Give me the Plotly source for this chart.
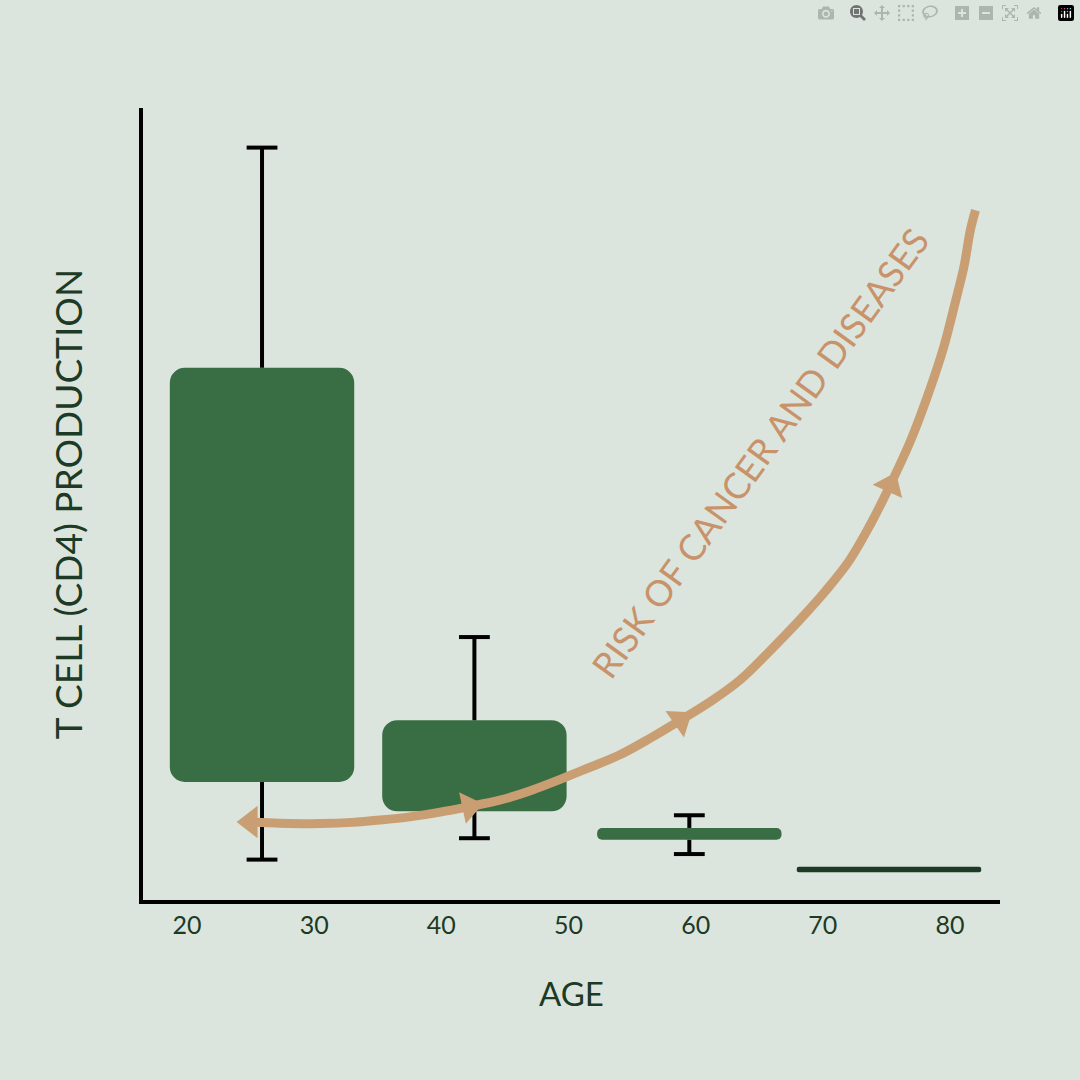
import plotly.graph_objects as go

# box data (age centre, box bottom/top, whisker low/high)
box_x = [25.9, 42.6, 59.5, 75.2]
box_low = [14.9, 11.2, 7.6, 3.5]
box_high = [67.2, 22.7, 9.1, 4.2]
whisk_x = [25.9, 42.6, 59.5]
whisk_low = [5.1, 7.8, 5.8]
whisk_high = [95.0, 33.2, 10.7]
box_colors = ["#396d43", "#396d43", "#396d43", "#1c3a24"]

# risk curve
risk_x = [24.8, 27.3, 30.5, 33.0, 35.2, 37.5, 39.9, 42.2, 44.6, 47.0, 49.3, 51.6, 54.0, 56.4,
          58.8, 61.2, 63.5, 65.8, 68.2, 70.2, 72.1, 73.8, 75.3, 76.9, 78.4, 79.5, 80.4, 81.1, 81.6, 82.0]
risk_y = [9.85, 9.7, 9.65, 9.8, 10.1, 10.5, 11.1, 11.8, 12.6, 13.8, 15.2, 16.7, 18.3, 20.4,
          22.7, 25.1, 27.8, 31.4, 35.4, 39.0, 42.9, 47.6, 52.4, 58.0, 64.4, 69.8, 75.4, 80.0, 84.6, 87.1]
arrow_x = [25.0, 42.2, 58.8, 75.3]
arrow_y = [9.85, 11.8, 22.7, 52.4]
arrow_angle = [180, -12, -35, -66]

ticks = [20, 30, 40, 50, 60, 70, 80]

orange = "#c99e72"
dark = "#1c3a24"

# whisker segments outside the boxes, with caps at the ends
wx, wy, cap_x, cap_y = [], [], [], []
for x, lo, hi, bl, bh in zip(whisk_x, whisk_low, whisk_high, box_low, box_high):
    wx += [x, x, None, x, x, None]
    wy += [bh, hi, None, bl, lo, None]
    cap_x += [x, x]
    cap_y += [hi, lo]

fig = go.Figure()

fig.add_trace(go.Bar(
    x=box_x, y=[h - l for h, l in zip(box_high, box_low)], base=box_low,
    width=14.5, marker=dict(color=box_colors, line=dict(width=0)),
    showlegend=False))

fig.add_trace(go.Scatter(x=wx, y=wy, mode="lines", line=dict(color="black", width=4),
                         hoverinfo="skip", showlegend=False))
fig.add_trace(go.Scatter(x=cap_x, y=cap_y, mode="markers",
                         marker=dict(symbol="line-ew", size=22, line=dict(color="black", width=4)),
                         hoverinfo="skip", showlegend=False))

fig.add_trace(go.Scatter(
    x=risk_x, y=risk_y, mode="lines",
    line=dict(color=orange, width=9, shape="spline", smoothing=1.0),
    showlegend=False))
fig.add_trace(go.Scatter(
    x=arrow_x, y=arrow_y, mode="markers",
    marker=dict(symbol="triangle-right", size=28, color=orange, angle=arrow_angle),
    showlegend=False))

fig.add_annotation(x=65.0, y=56.5, text="RISK OF CANCER AND DISEASES", showarrow=False,
                   textangle=-54, font=dict(family="Lato", size=36, color="#c8926a"))
fig.add_annotation(x=0.5, y=-0.09, xref="paper", yref="paper", yanchor="top",
                   text="AGE", showarrow=False,
                   font=dict(family="Lato", size=33, color=dark))

fig.update_layout(
    width=1080, height=1080,
    paper_bgcolor="#dbe5dd", plot_bgcolor="#dbe5dd",
    margin=dict(l=143, r=80, t=108, b=180),
    barcornerradius=15,
    xaxis=dict(range=[16.54, 83.93], tickvals=ticks, showgrid=False, zeroline=False,
               showline=True, linecolor="black", linewidth=4,
               tickfont=dict(family="Lato", size=25, color=dark), ticklen=0),
    yaxis=dict(range=[0, 100], showgrid=False, zeroline=False, showticklabels=False,
               showline=True, linecolor="black", linewidth=4,
               title=dict(text="T CELL (CD4) PRODUCTION", standoff=46,
                          font=dict(family="Lato", size=37, color=dark))),
)

fig.write_html("out.html")

# drop the default page margin so the figure fills the window
with open("out.html") as f:
    page = f.read()
page = page.replace("<body>", '<body style="margin:0">', 1)
with open("out.html", "w") as f:
    f.write(page)
